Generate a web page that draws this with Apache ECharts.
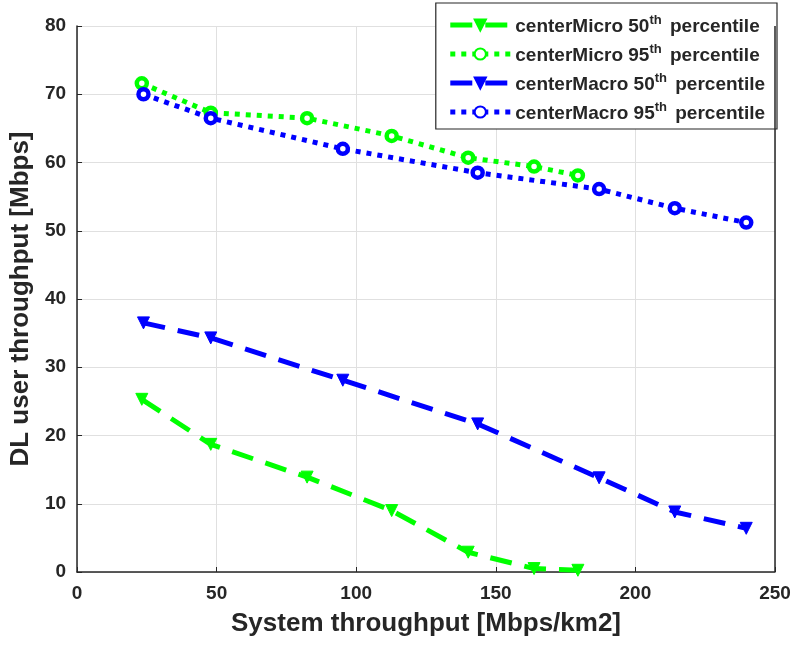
<!DOCTYPE html>
<html><head><meta charset="utf-8">
<script src="https://cdn.jsdelivr.net/npm/echarts@6/dist/echarts.min.js"></script>
<style>html,body{margin:0;padding:0;background:#fff}#c{width:797px;height:647px}</style>
</head><body><div id="c"></div>
<script>
var seriesNames = ['centerMicro 50th percentile','centerMicro 95th percentile','centerMacro 50th percentile','centerMacro 95th percentile'];
var microX = [23.2, 47.9, 82.4, 112.7, 140.1, 163.7, 179.4];
var micro50 = [25.3, 18.7, 13.9, 9.0, 2.9, 0.5, 0.25];
var micro95 = [71.6, 67.3, 66.5, 63.9, 60.7, 59.4, 58.1];
var macroX = [23.8, 47.9, 95.2, 143.5, 187.0, 214.1, 239.7];
var macro50 = [36.5, 34.3, 28.1, 21.7, 13.8, 8.8, 6.4];
var macro95 = [70.0, 66.5, 62.0, 58.5, 56.1, 53.3, 51.2];
var xTicks = [0, 50, 100, 150, 200, 250];
var yTicks = [0, 10, 20, 30, 40, 50, 60, 70, 80];

function pairs(xs, ys){ return xs.map(function(x,i){ return [x, ys[i]]; }); }
var FONT = '"Liberation Sans", Arial, sans-serif';
var GREEN = '#00ff00', BLUE = '#0000ff', INK = '#262626';

function mk(name, color, xs, ys, kind){
  var is50 = kind === 50;
  return {
    name: name, type: 'line', data: pairs(xs, ys),
    symbol: is50 ? 'triangle' : 'circle',
    symbolRotate: is50 ? 180 : 0,
    symbolSize: is50 ? 12 : 10,
    showAllSymbol: true,
    lineStyle: { color: color, width: 5, type: is50 ? [22, 13] : [5, 6] },
    itemStyle: is50
      ? { color: color, borderColor: color, borderWidth: 1 }
      : { color: '#ffffff', borderColor: color, borderWidth: 4.5 },
    emphasis: { disabled: true },
    animation: false
  };
}

var chart = echarts.init(document.getElementById('c'));
chart.setOption({
  animation: false,
  grid: { left: 76, right: 22, top: 26, bottom: 75, containLabel: false },
  legend: {
    orient: 'vertical', top: 3, right: 20,
    backgroundColor: '#fff', borderColor: INK, borderWidth: 1.2,
    padding: [11, 12, 6, 12], itemGap: 7, itemWidth: 60, itemHeight: 14,
    data: seriesNames,
    lineStyle: { width: 5 },
    formatter: function(n){
      var m = n.match(/^(.*?)(\d+)th (.*)$/);
      return '{a|' + m[1] + m[2] + '}{s|th}{a| ' + m[3] + '}';
    },
    textStyle: {
      fontFamily: FONT, fontWeight: 'bold', fontSize: 19, color: INK,
      rich: {
        a: { fontFamily: FONT, fontWeight: 'bold', fontSize: 19, color: INK, verticalAlign: 'bottom', lineHeight: 22 },
        s: { fontFamily: FONT, fontWeight: 'bold', fontSize: 13, color: INK, verticalAlign: 'top', lineHeight: 22, padding: [0, 3, 9, 0] }
      }
    }
  },
  xAxis: {
    type: 'value', min: 0, max: 250, interval: 50,
    name: 'System throughput [Mbps/km2]', nameLocation: 'middle', nameGap: 39,
    nameTextStyle: { fontFamily: FONT, fontWeight: 'bold', fontSize: 26, color: INK },
    axisLine: { show: true, onZero: false, lineStyle: { color: INK, width: 1.5 } },
    axisTick: { show: true, inside: true, length: 5, lineStyle: { color: INK } },
    axisLabel: { fontFamily: FONT, fontWeight: 'bold', fontSize: 19, color: INK, margin: 12,
      formatter: function(v){ return xTicks.indexOf(v) >= 0 ? String(v) : ''; } },
    splitLine: { show: true, lineStyle: { color: '#e0e0e0', width: 1 } }
  },
  yAxis: {
    type: 'value', min: 0, max: 80, interval: 10,
    name: 'DL user throughput [Mbps]', nameLocation: 'middle', nameGap: 41,
    nameTextStyle: { fontFamily: FONT, fontWeight: 'bold', fontSize: 26, color: INK },
    axisLine: { show: true, onZero: false, lineStyle: { color: INK, width: 1.5 } },
    axisTick: { show: true, inside: true, length: 5, lineStyle: { color: INK } },
    axisLabel: { fontFamily: FONT, fontWeight: 'bold', fontSize: 19, color: INK, margin: 11,
      formatter: function(v){ return yTicks.indexOf(v) >= 0 ? String(v) : ''; } },
    splitLine: { show: true, lineStyle: { color: '#e0e0e0', width: 1 } }
  },
  series: [
    mk(seriesNames[0], GREEN, microX, micro50, 50),
    mk(seriesNames[1], GREEN, microX, micro95, 95),
    mk(seriesNames[2], BLUE, macroX, macro50, 50),
    mk(seriesNames[3], BLUE, macroX, macro95, 95),
    { type: 'line', silent: true, data: [], markLine: { silent: true, symbol: 'none', label: { show: false },
        lineStyle: { color: INK, width: 1.5, type: 'solid' }, data: [[{ coord: [250, 0] }, { coord: [250, 80] }]] } }
  ]
});
</script></body></html>
